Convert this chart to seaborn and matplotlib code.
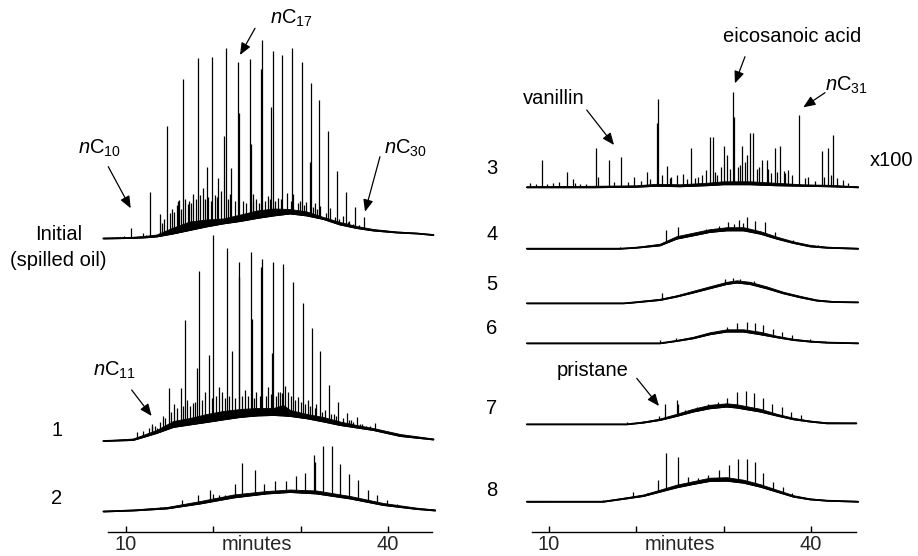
import numpy as np
import matplotlib
matplotlib.use('Agg')
import matplotlib.pyplot as plt
import seaborn as sns

sns.set_style('white')
plt.rcParams['font.family'] = ['Liberation Sans', 'DejaVu Sans']
plt.rcParams['mathtext.fontset'] = 'custom'
plt.rcParams['mathtext.rm'] = 'Liberation Sans'
plt.rcParams['mathtext.it'] = 'Liberation Sans:italic'
plt.rcParams['mathtext.bf'] = 'Liberation Sans:bold'

# ---------------- data (retention time in minutes, detector response) ----------------
TICKS = [10, 20, 30, 40]
TICK_LABELS = ['10', '', '', '40']
AXIS_LABEL = 'minutes'

# Initial (spilled oil)
INIT_HUMP_T = [7.4, 10.5, 12.0, 13.5, 15.4, 17.3, 19.2, 21.1, 23.1, 25.0, 26.9, 28.8, 30.7, 32.6, 34.5, 36.4, 38.3, 41.0, 43.3, 45.2]
INIT_LO = [0, 0.5, 1, 2, 5, 8.5, 12, 15, 17.5, 20.5, 23, 25, 23, 19.5, 14, 10.5, 8, 6, 5, 3.5]
INIT_HI = [0.8, 1.5, 2.5, 4, 11, 17, 19, 20, 24, 28, 30, 29.5, 27, 21.5, 16.5, 12.5, 9.5, 7, 5.8, 4.3]
INIT_PK_T = [10.54, 12.75, 14.73, 16.53, 18.28, 19.89, 21.49, 22.83, 24.2, 25.54, 26.8, 27.87, 29.05,
             30.13, 31.19, 32.14, 33.17, 34.14, 35.17, 36.23, 37.26, 38.3, 40.6, 42.5,
             19.3, 21.2, 22.95, 24.35, 25.43, 26.6, 31.05,
             13.9, 15.5, 16.07, 17.25, 18.8, 20.57, 22.03, 9.0, 9.8, 11.98, 12.3,
             14.09, 15.04, 16.0, 17.14, 17.7, 18.0, 19.1, 19.43, 20.2, 20.9, 21.9, 23.44, 24.58,
             24.9, 26.3, 27.45, 28.4, 29.16, 29.93, 30.6, 31.6, 32.22, 33.37, 34.9, 35.6, 36.7,
             37.8, 39.0,
             14.4, 15.3, 15.8, 16.3, 16.8, 17.45, 18.5, 19.7, 20.4, 21.7, 22.5, 23.8, 24.6, 25.2,
             25.9, 26.5, 27.1, 27.7, 28.9, 29.7, 30.35, 31.4, 31.9, 32.9, 33.9, 34.4, 35.4, 36.0,
             36.9, 37.5, 38.8]
INIT_PK_H = [10.7, 47, 113, 160, 181, 182, 190.5, 177, 180, 199, 188, 184, 190.5,
             177, 156, 139, 108, 68, 47, 32, 21.5, 10, 7, 4,
             72, 103, 126, 95, 170, 132, 77,
             25, 27, 39, 38, 51, 61, 71, 2, 3, 6, 4,
             16, 26, 38, 35, 45, 40, 40, 42, 44, 48, 45, 38, 45,
             40, 43, 41, 46, 45, 38, 37, 36, 33, 31, 23, 18, 14,
             10, 8,
             20, 30, 34, 30, 40, 36, 44, 38, 42, 40, 38, 36, 38, 36,
             38, 40, 38, 40, 38, 36, 34, 32, 30, 26, 22, 20, 17, 15,
             12, 11, 9]

# Sample 1
S1_HUMP_T = [7.4, 10.8, 11.6, 13.5, 15.4, 17.3, 19.24, 21.1, 23.06, 25.0, 26.87, 28.0, 28.8, 30.7, 32.6, 34.5, 36.4, 38.3, 41.4, 45.2]
S1_LO = [1, 2, 4, 9, 15, 17.5, 20, 22.5, 25, 26.5, 27, 26.5, 26, 23.7, 20.5, 17, 14.5, 12, 6, 2.5]
S1_HI = [1.5, 3.5, 6, 12, 21, 24, 28, 31, 33, 34, 34, 37, 32, 28, 25, 20.5, 17, 14, 8, 3.5]
S1_PK_T = [11.3, 11.9, 12.6, 12.94, 13.3, 13.6, 14.89, 16.3, 16.72, 17.64, 18.1, 18.36, 19.47, 20.02,
           21.53, 22.18, 22.91, 23.0, 24.32, 24.47, 25.5, 25.61, 26.76, 26.87, 27.84, 27.95,
           29.16, 30.24, 31.34, 32.22, 33.29, 34.32, 35.28, 36.43, 38.52,
           14.2, 15.5, 17.0, 19.0, 20.6, 21.0, 23.6, 24.9, 26.3, 27.4, 28.6, 29.7, 30.8, 31.8, 32.8,
           33.8, 35.8, 37.0, 38.0, 39.2, 40.3,
           13.0, 13.9, 14.5, 15.2, 15.9, 16.5, 17.3, 17.9, 18.7, 19.8, 20.3, 21.3, 21.8, 22.5,
           23.3, 24.0, 24.7, 25.3, 26.0, 26.6, 27.2, 27.6, 28.2, 28.9, 29.4, 30.0, 30.5, 31.1,
           31.6, 32.5, 33.5, 34.0, 34.8, 35.5, 36.0, 36.8, 37.5, 38.2, 39.6, 41.0]
S1_PK_H = [10, 11, 14, 18, 16, 14, 54, 54, 122, 39, 74, 171, 87, 207,
           194, 91, 180, 165, 190, 123, 175, 183, 89, 180, 49, 178,
           160, 139, 114, 91, 57, 40, 29, 25, 19,
           26, 38, 42, 50, 55, 50, 52, 50, 55, 50, 50, 45, 42, 38, 32,
           28, 22, 18, 16, 12, 9,
           16, 20, 24, 30, 34, 36, 36, 40, 42, 44, 46, 44, 46, 44,
           46, 46, 44, 46, 46, 48, 46, 50, 56, 46, 42, 40, 38, 36,
           34, 30, 28, 26, 24, 22, 20, 18, 16, 14, 11, 8]

# Sample 2
S2_HUMP_T = [7.4, 10.84, 14.66, 18.5, 22.3, 26.1, 28.8, 31.8, 35.66, 39.47, 43.3, 45.4]
S2_LO = [0, 1, 3, 8, 14, 18, 19.5, 18, 13, 6.5, 2.5, 1]
S2_HI = [0.8, 2, 4.5, 10.5, 17, 20.5, 22, 21, 15.5, 8.5, 3.8, 2]
S2_PK_T = [13.9, 16.38, 18.28, 19.62, 20.0, 20.6, 21.3, 22.49, 23.25, 24.78, 25.84, 27.07, 28.29,
           29.44, 30.5, 31.54, 31.65, 32.6, 33.56, 34.51, 35.58, 36.61, 37.75, 38.79, 39.86, 41.0]
S2_PK_H = [5, 11.5, 16.5, 22, 18, 17, 17, 27.5, 49, 42, 28, 30.5, 30.5,
           35.5, 39, 57, 50, 65.5, 65.5, 48, 37.5, 31.5, 22, 17, 12, 7.5]

# Sample 3 (x100)
S3_HUMP_T = [7.45, 15, 20, 22.3, 25, 28, 30, 33, 36, 39, 42, 45.4]
S3_LO = [0, 0, 0.5, 1.5, 1, 2, 3, 3, 2, 1.5, 1, 0]
S3_HI = [1, 1.5, 2, 3.5, 3, 4.5, 6, 6, 4.5, 3, 2.5, 1]
S3_PK_T = [7.8, 9.23, 10.5, 11.2, 12.03, 12.78, 13.6, 15.35, 15.6, 16.87, 18.25, 19.1, 19.77, 21.19,
           22.34, 22.52, 23.0, 23.48, 24.0, 24.63, 25.31, 26.27, 27.1, 27.98, 28.44, 28.75, 29.3,
           30.08, 30.36, 31.04, 31.19, 31.6, 32.07, 32.65, 33.02, 33.4, 33.8, 34.36, 34.94, 35.4,
           35.89, 36.46, 36.9, 37.41, 38.67, 39.7, 40.5, 41.24, 42.0, 42.5, 43.71,
           8.5, 9.8, 13.0, 14.2, 17.5, 20.5, 21.6, 23.9, 25.8, 26.7, 27.5, 29.0, 29.7, 30.7,
           31.9, 32.4, 34.0, 35.1, 36.1, 37.0, 37.8, 39.3, 41.5, 42.3, 43.0, 44.2]
S3_PK_H = [4, 27, 4, 5, 15, 8, 3, 39, 10, 27, 30, 5, 10.5, 15,
           64, 88, 12, 21, 10, 12, 13, 39, 10.5, 17, 50, 50, 12,
           41, 32, 95, 70, 20, 41, 32, 54, 54.7, 18, 27, 27, 14,
           39, 41, 16, 17, 72, 10.5, 6, 36, 39, 52, 7,
           3, 3, 4, 3, 5, 6, 8, 9, 8, 9, 12, 15, 20, 18,
           22, 25, 20, 18, 15, 14, 12, 9, 10, 12, 9, 4]

# Sample 4
S4_HUMP_T = [7.45, 18.1, 20.0, 22.7, 24.6, 26.5, 28.4, 30.35, 32.26, 34.2, 36.1, 38.0, 39.9, 41.8, 45.4]
S4_LO = [0, 0, 1, 3.3, 10, 13.3, 16.7, 18.3, 18.3, 15, 10, 5.7, 2.3, 1, 0]
S4_HI = [0.5, 0.5, 1.8, 5, 12.5, 16, 19.5, 21.5, 21.5, 17.5, 12, 7.3, 3.8, 2, 0.8]
S4_PK_T = [18.1, 23.37, 24.81, 26.0, 28.0, 29.5, 30.54, 31.2, 31.8, 32.2, 32.65, 33.6, 34.74,
           35.89, 36.84, 37.98, 38.95, 40.85, 42.4]
S4_PK_H = [2, 18.3, 21.7, 15, 20, 23, 26.7, 25, 28.3, 26, 31.7, 28, 26.7,
           16.7, 10, 8.3, 5, 3.3, 2]

# Sample 5
S5_HUMP_T = [7.45, 18.5, 19.3, 22.7, 24.6, 26.5, 28.4, 30.35, 31.5, 33.0, 34.9, 36.84, 38.75, 40.66, 42.57, 45.4]
S5_LO = [0, 0, 0.5, 3.3, 6.7, 10.7, 15, 19.3, 20.7, 19.3, 15, 10, 6, 2.7, 1.3, 1]
S5_HI = [0.5, 0.5, 1.2, 4.5, 8, 12.5, 17, 21.5, 23, 21.5, 17, 11.5, 7.5, 3.8, 2.2, 1.6]
S5_PK_T = [19.2, 22.98, 30.16, 31.08, 31.88, 33.5, 36.0, 40.2]
S5_PK_H = [1.5, 10.7, 24, 25, 24, 22, 13, 4.5]

# Sample 6
S6_HUMP_T = [7.45, 22.7, 24.6, 26.5, 28.4, 30.35, 32.26, 34.2, 36.1, 38.0, 39.9, 41.8, 45.4]
S6_LO = [0, 0, 2.3, 5, 9, 11.7, 11.7, 9, 6, 3.3, 1.7, 0.7, 0]
S6_HI = [0.5, 0.5, 3.3, 6.5, 11, 14, 14, 11.5, 7.5, 4.5, 2.7, 1.5, 0.7]
S6_PK_T = [22.7, 24.6, 30.36, 31.5, 32.65, 33.6, 34.55, 35.7, 36.66, 37.8, 39.9, 41.6]
S6_PK_H = [3, 5, 16.7, 20.7, 21.7, 20, 18.3, 14, 11.7, 8.3, 4, 2.5]

# Sample 7
S7_HUMP_T = [7.45, 18.9, 20.8, 22.7, 24.6, 26.5, 28.4, 30.35, 31.5, 34.2, 36.1, 38.0, 39.9, 41.8, 45.2]
S7_LO = [0, 0, 1.7, 4.3, 8.3, 12.7, 16, 17.7, 16.7, 12.7, 8.7, 5, 2.7, 1, 1]
S7_HI = [0.5, 0.5, 2.7, 5.8, 10.5, 15.5, 19.5, 21, 20, 15.5, 10.5, 6.5, 3.7, 2, 1.7]
S7_PK_T = [18.9, 20.8, 22.6, 23.29, 24.63, 24.75, 25.6, 27.0, 28.25, 29.4, 30.36, 31.5, 32.53,
           33.48, 34.48, 35.58, 36.66, 37.69, 38.83, 40.5]
S7_PK_H = [2, 3, 8.3, 20.3, 24.3, 20, 14, 17, 20, 22, 26, 32.7, 33.3,
           31.7, 26, 20, 17.7, 12, 9.3, 3]

# Sample 8
S8_HUMP_T = [7.45, 16.2, 18.9, 20.8, 22.7, 24.6, 26.5, 28.4, 30.35, 32.26, 34.2, 36.1, 38.0, 39.9, 41.8, 45.4]
S8_LO = [0, 0, 3.3, 5.7, 10, 14.3, 17.7, 20.7, 21, 19, 15, 10, 5, 2.3, 1, 0]
S8_HI = [0.5, 0.8, 4.5, 7.2, 12, 17, 20.5, 24, 24.5, 22, 17.5, 12, 6.5, 3.3, 1.8, 0.8]
S8_PK_T = [16.2, 17.5, 18.5, 19.66, 21.19, 22.52, 23.4, 24.81, 25.96, 27.1, 28.25, 28.6, 29.51,
           30.59, 31.62, 32.65, 33.6, 34.55, 35.7, 36.78, 37.8, 39.3, 40.7]
S8_PK_H = [1.5, 3, 4, 10, 8.3, 21.7, 48.3, 45, 24.3, 23.3, 26.7, 24, 31.7,
           36.7, 42.7, 42.7, 40, 29, 20, 15, 8.3, 4, 2.5]

# ---------------- layout ----------------
W, H = 918, 556
fig = plt.figure(figsize=(W / 100, H / 100), dpi=100)
AX_BOTTOM_PX = 532
axL = fig.add_axes([108 / W, (H - AX_BOTTOM_PX) / H, 324 / W, AX_BOTTOM_PX / H])
axR = fig.add_axes([532 / W, (H - AX_BOTTOM_PX) / H, 324 / W, AX_BOTTOM_PX / H])
axL.set_xlim(7.94, 45.05)
axR.set_xlim(8.05, 45.17)
FS = 14.5

for ax in (axL, axR):
    ax.set_ylim(0, AX_BOTTOM_PX)
    ax.set_facecolor('none')
    for s in ('left', 'right', 'top'):
        ax.spines[s].set_visible(False)
    ax.spines['bottom'].set_color('black')
    ax.spines['bottom'].set_linewidth(1.0)
    ax.set_yticks([])
    ax.set_xticks(TICKS)
    ax.set_xticklabels(TICK_LABELS)
    ax.set_xticks([25], minor=True)
    ax.set_xticklabels([AXIS_LABEL], minor=True)
    ax.tick_params(axis='x', which='major', direction='in', length=4, width=1.0,
                   color='black', labelsize=FS, pad=2.5, bottom=True)
    ax.tick_params(axis='x', which='minor', length=0, labelsize=FS, pad=2.5, bottom=True)
    ax.grid(False)


def draw_trace(ax, ht, lo, hi, pt, ph, offset, z):
    ht = np.asarray(ht, float)
    lo = np.asarray(lo, float)
    hi = np.asarray(hi, float)
    ax.vlines(pt, offset, offset + np.asarray(ph, float), colors='black', lw=0.9,
              zorder=z, clip_on=False)
    # mask the part of each peak that lies below the hump
    ax.fill_between(ht, offset - 2.5, offset + lo, color='white', lw=0, zorder=z + 0.1, clip_on=False)
    # unresolved complex mixture "grass"
    ax.fill_between(ht, offset + lo, offset + hi, color='black', lw=0.6, edgecolor='black',
                    zorder=z + 0.2, clip_on=False)
    sns.lineplot(x=ht, y=offset + lo, ax=ax, color='black', lw=1.3, zorder=z + 0.3,
                 clip_on=False, estimator=None, sort=False)


left_traces = [
    (INIT_HUMP_T, INIT_LO, INIT_HI, INIT_PK_T, INIT_PK_H, 293.5),
    (S1_HUMP_T, S1_LO, S1_HI, S1_PK_T, S1_PK_H, 90.0),
    (S2_HUMP_T, S2_LO, S2_HI, S2_PK_T, S2_PK_H, 20.5),
]
right_traces = [
    (S3_HUMP_T, S3_LO, S3_HI, S3_PK_T, S3_PK_H, 344.7),
    (S4_HUMP_T, S4_LO, S4_HI, S4_PK_T, S4_PK_H, 283.3),
    (S5_HUMP_T, S5_LO, S5_HI, S5_PK_T, S5_PK_H, 228.7),
    (S6_HUMP_T, S6_LO, S6_HI, S6_PK_T, S6_PK_H, 188.7),
    (S7_HUMP_T, S7_LO, S7_HI, S7_PK_T, S7_PK_H, 107.7),
    (S8_HUMP_T, S8_LO, S8_HI, S8_PK_T, S8_PK_H, 30.3),
]
for i, tr in enumerate(left_traces):
    draw_trace(axL, *tr, z=2 + i)
for i, tr in enumerate(right_traces):
    draw_trace(axR, *tr, z=2 + i)


def label(ax, x, y, s, **kw):
    ax.text(x, y, s, ha='center', va='center', fontsize=FS, color='black', clip_on=False, **kw)


def arrow(ax, start, tip):
    ax.annotate('', xy=tip, xytext=start, annotation_clip=False,
                arrowprops=dict(arrowstyle='-|>,head_length=0.6,head_width=0.25',
                                color='black', lw=0.9, shrinkA=0, shrinkB=0,
                                mutation_scale=12))


# left panel labels
label(axL, 2.27, 297, 'Initial')
label(axL, 2.27, 271, '(spilled oil)')
label(axL, 2.1, 102, '1')
label(axL, 2.1, 34, '2')
label(axL, 7.02, 384, r'$\mathit{n}$C$_{10}$')
arrow(axL, (7.97, 365.3), (10.54, 323.7))
label(axL, 28.9, 513.7, r'$\mathit{n}$C$_{17}$')
arrow(axL, (24.78, 503.7), (23.06, 477))
label(axL, 41.96, 384, r'$\mathit{n}$C$_{30}$')
arrow(axL, (39.09, 375.3), (37.38, 320.3))
label(axL, 8.63, 162, r'$\mathit{n}$C$_{11}$')
arrow(axL, (10.65, 142), (12.94, 116))

# right panel labels
for s, y in zip(['3', '4', '5', '6', '7', '8'], [364, 297, 248, 204, 124, 42]):
    label(axR, 3.47, y, s)
label(axR, 49.29, 371, 'x100')
label(axR, 10.57, 433.7, 'vanillin')
arrow(axR, (14.32, 422), (17.45, 387))
label(axR, 37.8, 495.3, 'eicosanoic acid')
arrow(axR, (32.45, 475.3), (31.3, 448.7))
label(axR, 44.13, 447, r'$\mathit{n}$C$_{31}$')
arrow(axR, (41.62, 439.3), (39.13, 424.7))
label(axR, 14.98, 162, 'pristane')
arrow(axR, (20.05, 153.7), (22.6, 126))

fig.savefig('out.png', dpi=100, facecolor='white')
